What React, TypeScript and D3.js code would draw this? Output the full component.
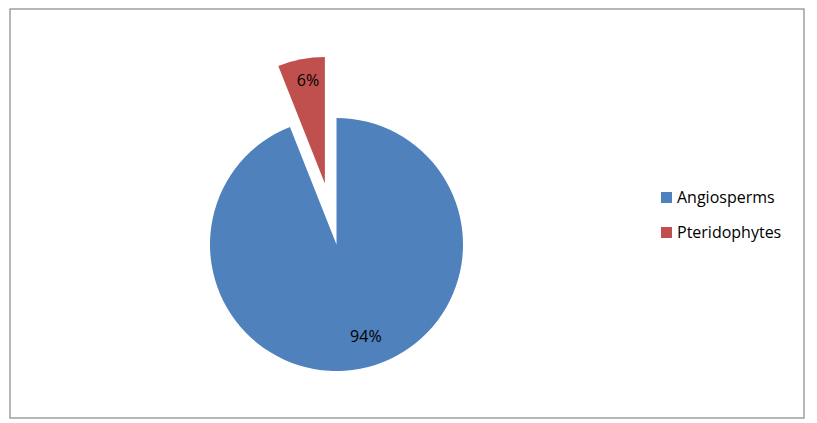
import React from 'react';
import * as d3 from 'd3';

const categories = ['Angiosperms', 'Pteridophytes'];
const values = [94, 6];
const colors = ['#4f81bd', '#c0504d'];
// slice pulled out of the pie (px)
const explode = [0, 62];
// label placement tweaks (Excel best-fit): angle shift in degrees, radius fraction
const labelAngleShift = [-7, 1.5];
const labelRadius = [0.76, 0.83];

const W = 817;
const H = 423;
const cx = 336.5;
const cy = 244.5;
const r = 126.5;

const App = () => {
  const pie = d3
    .pie<number>()
    .sort(null)
    .value((d) => d);
  const arcs = pie(values);
  const arc = d3.arc<d3.PieArcDatum<number>>().innerRadius(0).outerRadius(r);
  const font = '"Open Sans", Carlito, Calibri, sans-serif';

  return (
    <svg
      width={W}
      height={H}
      style={{ position: 'absolute', left: 0, top: 0, background: '#fff' }}
    >
      <rect x={10} y={9} width={794} height={409} fill="#fff" stroke="#878787" strokeWidth={1.2} />
      <g transform={`translate(${cx},${cy})`}>
        {arcs.map((a, i) => {
          const mid = (a.startAngle + a.endAngle) / 2;
          const ox = Math.sin(mid) * explode[i];
          const oy = -Math.cos(mid) * explode[i];
          const la = mid + (labelAngleShift[i] * Math.PI) / 180;
          const lr = r * labelRadius[i];
          return (
            <g key={categories[i]} transform={`translate(${ox},${oy})`}>
              <path d={arc(a) || ''} fill={colors[i]} />
              <text
                x={Math.sin(la) * lr}
                y={-Math.cos(la) * lr}
                dy="0.36em"
                textAnchor="middle"
                fontFamily={font}
                fontSize={16}
                fill="#000"
              >
                {values[i]}%
              </text>
            </g>
          );
        })}
      </g>
      <g transform="translate(661,192)">
        {categories.map((c, i) => (
          <g key={c} transform={`translate(0,${i * 35})`}>
            <rect width={11} height={11} fill={colors[i]} />
            <text x={16} y={11} fontFamily={font} fontSize={16} fill="#000">
              {c}
            </text>
          </g>
        ))}
      </g>
    </svg>
  );
};

export default App;
